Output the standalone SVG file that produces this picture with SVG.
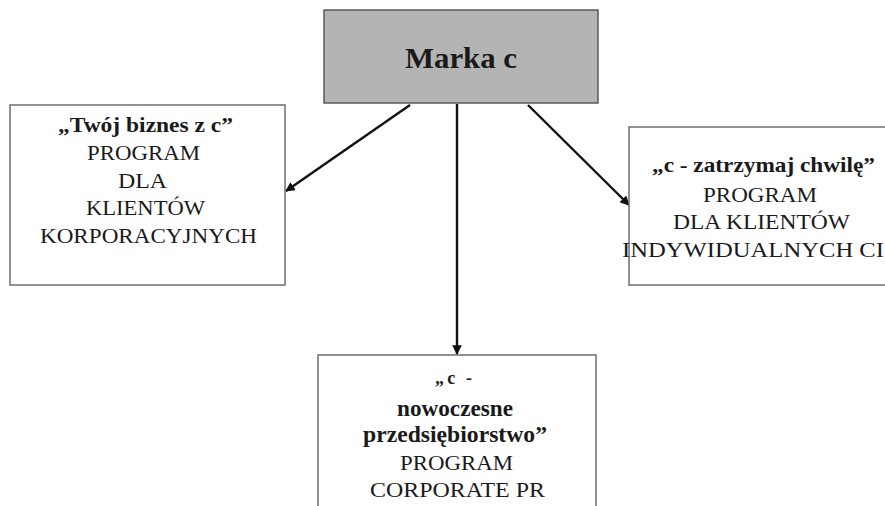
<svg xmlns="http://www.w3.org/2000/svg" width="885" height="506" viewBox="0 0 885 506">
<style>
.box{fill:#fff;stroke:#6e6e6e;stroke-width:1.5}
.top{fill:#b4b4b4;stroke:#5a5a5a;stroke-width:1.5}
text{font-family:"Liberation Serif","Times New Roman",serif;fill:#1a1a1a;text-anchor:middle}
.t{font-size:21.5px}
.b{font-size:20.5px;font-weight:bold}
.bb{font-size:23px;font-weight:bold}
.conn{stroke:#111;stroke-width:2.4;fill:none;marker-end:url(#ah)}
</style>
<defs>
<marker id="ah" viewBox="0 0 10 10" refX="9" refY="5" markerWidth="4" markerHeight="4" orient="auto" markerUnits="strokeWidth">
<path d="M0,0 L10,5 L0,10 z" fill="#111"/>
</marker>
</defs>
<rect width="885" height="506" fill="#fff"/>
<g id="connectors">
<line class="conn" x1="410" y1="105" x2="286" y2="191"/>
<line class="conn" x1="457" y1="104" x2="457" y2="354"/>
<line class="conn" x1="528" y1="105" x2="629" y2="205"/>
</g>
<g id="marka">
<rect class="top" x="324" y="10" width="274" height="93"/>
<text x="461" y="68" style="font-size:30px;font-weight:bold" textLength="112" lengthAdjust="spacingAndGlyphs">Marka c</text>
</g>
<g id="twoj">
<rect class="box" x="10" y="105" width="275" height="180"/>
<text class="b" x="145.5" y="132" textLength="175" lengthAdjust="spacingAndGlyphs">„Twój biznes z c”</text>
<text class="t" x="143.5" y="160" textLength="113" lengthAdjust="spacingAndGlyphs">PROGRAM</text>
<text class="t" x="142.5" y="188" textLength="49" lengthAdjust="spacingAndGlyphs">DLA</text>
<text class="t" x="145.5" y="215" textLength="119" lengthAdjust="spacingAndGlyphs">KLIENTÓW</text>
<text class="t" x="148.5" y="243" textLength="217" lengthAdjust="spacingAndGlyphs">KORPORACYJNYCH</text>
</g>
<g id="zatrzymaj">
<rect class="box" x="629" y="127" width="270" height="158"/>
<text class="b" x="763.5" y="172" style="font-size:21px" textLength="223" lengthAdjust="spacingAndGlyphs">„c - zatrzymaj chwilę”</text>
<text class="t" x="760" y="202" textLength="114" lengthAdjust="spacingAndGlyphs">PROGRAM</text>
<text class="t" x="761.5" y="229" textLength="177" lengthAdjust="spacingAndGlyphs">DLA KLIENTÓW</text>
<text class="t" x="622" y="257" style="text-anchor:start" textLength="262" lengthAdjust="spacingAndGlyphs">INDYWIDUALNYCH CI</text>
</g>
<g id="nowoczesne">
<rect class="box" x="318" y="355" width="278" height="160"/>
<text class="b" x="453.5" y="384" style="font-size:18px" textLength="37" lengthAdjust="spacing">„c -</text>
<text class="bb" x="455" y="416" textLength="116" lengthAdjust="spacingAndGlyphs">nowoczesne</text>
<text class="bb" x="455" y="442" textLength="184" lengthAdjust="spacingAndGlyphs">przedsiębiorstwo”</text>
<text class="t" x="456.5" y="470" textLength="113" lengthAdjust="spacingAndGlyphs">PROGRAM</text>
<text class="t" x="457.5" y="497" textLength="175" lengthAdjust="spacingAndGlyphs">CORPORATE PR</text>
</g>
</svg>
